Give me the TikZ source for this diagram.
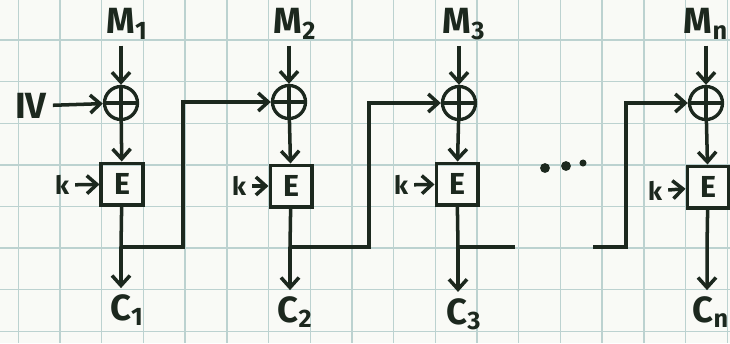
\documentclass[tikz,border=0pt]{standalone}
\usepackage{fontspec}
\setmainfont{Fira Sans}
\usepackage{xcolor}
\usepackage{tikz}
\usetikzlibrary{arrows.meta, positioning}

\definecolor{tinta}{RGB}{28,40,30}
\definecolor{kertas}{RGB}{249,250,246}
\definecolor{kisi}{RGB}{188,210,208}

\begin{document}
\begin{tikzpicture}[
    x=0.02cm, y=-0.02cm,
    font=\bfseries, color=tinta,
    xorop/.style={draw, circle, line width=1.9pt, minimum size=0.66cm, inner sep=0pt,
                  path picture={\draw[line width=1.9pt]
                    (path picture bounding box.north) -- (path picture bounding box.south)
                    (path picture bounding box.west) -- (path picture bounding box.east);}},
    sandi/.style={draw, line width=2pt, minimum size=0.83cm, inner sep=0pt,
                  font=\LARGE\bfseries},
    teks/.style={font=\huge\bfseries},
    kunci/.style={font=\Large\bfseries},
    garis/.style={line width=2pt},
    panah/.style={garis, -{Straight Barb[length=2mm, width=3.6mm]}}
  ]
    % kertas berpetak
    \fill[kertas] (0,0) rectangle (730,343);
    \useasboundingbox (0,0) rectangle (730,343);
    \foreach \i in {0,...,17}
      \draw[kisi, line width=0.8pt] ({18.3+41.7*\i},0) -- ++(0,343);
    \foreach \i in {0,...,8}
      \draw[kisi, line width=0.8pt] (0,{-1.6+41.6*\i}) -- ++(730,0);

    % blok 1
    \node[teks] (m1) at (127,24) {M\textsubscript{1}};
    \node[teks] (iv) at (31,106) {IV};
    \node[xorop] (xor1) at (121,103) {};
    \node[kunci] (k1) at (62,185) {k};
    \node[sandi] (enk1) at (122,184) {E};
    \node[teks] (c1) at (127,310) {C\textsubscript{1}};
    \coordinate (j1) at (121,247);
    \coordinate (b1) at (183,247);

    % blok 2
    \node[teks] (m2) at (295,24) {M\textsubscript{2}};
    \node[xorop] (xor2) at (289,102) {};
    \node[kunci] (k2) at (239,186) {k};
    \node[sandi] (enk2) at (291,186) {E};
    \node[teks] (c2) at (295,312) {C\textsubscript{2}};
    \coordinate (j2) at (290,247);
    \coordinate (b2) at (369,247);

    % blok 3
    \node[teks] (m3) at (464,24) {M\textsubscript{3}};
    \node[xorop] (xor3) at (459,103) {};
    \node[kunci] (k3) at (401,185) {k};
    \node[sandi] (enk3) at (457,184) {E};
    \node[teks] (c3) at (464,314) {C\textsubscript{3}};
    \coordinate (j3) at (458,247);
    \coordinate (t3) at (515,247);

    % blok n
    \node[teks] (mn) at (706,24) {M\textsubscript{n}};
    \node[xorop] (xorn) at (706,103) {};
    \node[kunci] (kn) at (655,191) {k};
    \node[sandi] (enkn) at (708,187) {E};
    \node[teks] (cn) at (711,312) {C\textsubscript{n}};
    \coordinate (jn) at (707,247);
    \coordinate (sn) at (593,247);
    \coordinate (bn) at (626,247);

    \draw[panah] (xor1 |- m1.south) -- (xor1);
    \draw[panah] (iv) -- (xor1);
    \draw[panah] (xor1) -- (enk1);
    \draw[panah] (k1) -- (enk1);
    \draw[garis] (enk1) -- (j1);
    \draw[panah] (j1) -- (j1 |- c1.north);
    \draw[panah] (j1) -- (b1) |- (xor2);

    \draw[panah] (xor2 |- m2.south) -- (xor2);
    \draw[panah] (xor2) -- (enk2);
    \draw[panah] (k2) -- (enk2);
    \draw[garis] (enk2) -- (j2);
    \draw[panah] (j2) -- (j2 |- c2.north);
    \draw[panah] (j2) -- (b2) |- (xor3);

    \draw[panah] (xor3 |- m3.south) -- (xor3);
    \draw[panah] (xor3) -- (enk3);
    \draw[panah] (k3) -- (enk3);
    \draw[garis] (enk3) -- (j3);
    \draw[panah] (j3) -- (j3 |- c3.north);
    \draw[garis] (j3) -- (t3);

    \fill (545,168) circle (2.8pt) (566,166) circle (2.8pt) (583,163) circle (2pt);

    \draw[panah] (sn) -- (bn) |- (xorn);
    \draw[panah] (xorn |- mn.south) -- (xorn);
    \draw[panah] (xorn) -- (enkn);
    \draw[panah] (kn) -- (enkn);
    \draw[panah] (enkn) -- (jn) -- (jn |- cn.north);
  \end{tikzpicture}
\end{document}
